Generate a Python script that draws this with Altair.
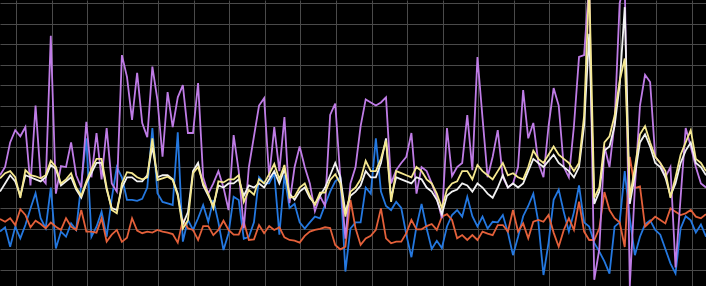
import altair as alt
import pandas as pd

N = 140
idx = list(range(N))

orange = [34.6, 33.3, 35, 31.7, 39.4, 36.6, 30.6, 33.8, 32.2, 30.1, 32.9, 30.9, 29.3, 35, 30.9, 29.3, 39, 28.5, 28.5, 28, 35, 23.6, 27, 29.3,
          23.5, 25.5, 35, 29, 27.7, 28.5, 28, 29.3, 28.5, 28, 27.3, 23.1, 34.2, 30.1, 29.3, 24.4, 31.2, 31.2, 26.8, 29.3, 33.8, 29.3, 27, 27,
          33.3, 24.4, 24.7, 31.7, 27.7, 31.2, 29.3, 30.6, 25.7, 24.4, 24.1, 23.1, 26.4, 28.5, 29.3, 29.8, 30.6, 30.2, 22, 19.8, 21.1, 43.9, 30.1,
          22, 25.2, 26.4, 29.3, 39.8, 25.2, 22.8, 23.6, 23.6, 27.7, 34.2, 29.6, 29.6, 31.2, 32.2, 29.3, 35.8, 37, 34.2, 25.2, 26.8, 24.4, 26.8, 24.4,
          28.5, 27.5, 26.8, 31.7, 31.7, 28.5, 39, 28.5, 32.5, 25.2, 33.3, 34.2, 33.3, 36.6, 28, 21.1, 29.3, 35, 29.3, 43.1, 28.5, 24.4, 24.4, 30.1,
          47.8, 39, 35, 33, 21, 65, 49.7, 50.5, 30.9, 33.3, 35.8, 34.2, 32.5, 39.8, 38.2, 36.6, 37.4, 39, 35.8, 35, 37]

blue = [28.5, 30.6, 21.1, 30.9, 25.2, 31.7, 39.8, 47.2, 35, 30.1, 50, 20.3, 28.5, 26, 32.5, 29.3, 52, 74, 26, 30.9, 38.2, 26, 44.7, 60,
        55, 44, 44, 43.5, 44.5, 50, 79, 47.2, 43, 42.3, 41.5, 77, 23.6, 34.2, 29.3, 35, 41.5, 33.3, 43.9, 33, 19.5, 27.7, 45.5, 43.9,
        25, 26, 33, 55, 52, 52, 57, 27, 56, 40, 42, 33, 30, 33, 35.8, 35, 41.5, 48, 53, 55, 9, 30, 33,
        33, 50, 47, 74, 48, 41, 39, 43, 40, 27, 16, 31, 42, 30, 20, 24, 20.5, 31, 36.6, 39, 35.8, 45.5, 36, 31,
        35.8, 30, 33.3, 33, 36.6, 28, 17, 26, 36, 41, 47, 33, 7.3, 23, 44, 49, 38, 28.5, 38, 51, 33, 31, 23, 18.7,
        14, 8, 30.9, 33, 58, 35, 17, 26, 32, 34, 29.3, 27, 20, 13, 8.1, 30, 36, 34, 28, 32, 26]

yellow = [54.5, 57, 58, 55, 45, 58.5, 56, 55.5, 54.5, 56, 63, 60, 52, 54, 57, 50, 46, 53, 59, 64, 64, 50, 39, 37.4,
          52, 57.5, 57, 55, 54, 55, 74, 53.7, 54.5, 55.3, 53.7, 46, 30, 34, 57, 60, 52, 47, 40, 53, 52.5, 54, 54, 56,
          43, 48.8, 46.5, 54, 52, 56.5, 61.5, 54, 61, 45, 45.5, 50, 52, 46, 41.5, 47.5, 47.5, 53.7, 56.5, 52, 35.8, 48, 50,
          54, 63, 58, 58, 64, 73, 43, 58, 57, 56, 55, 60, 58, 54, 52, 47, 40, 49, 52, 53, 58, 58, 54, 61,
          58, 56, 54, 58, 62, 56, 57, 55, 54, 60, 68, 64, 62, 66, 70, 66, 64, 62, 58, 62, 85, 150, 45, 50,
          72, 75, 85, 102, 113, 45, 60, 76, 80, 72, 65, 62, 58, 45, 55, 66, 72, 78, 64, 62, 58]

white = [48, 52, 56, 53, 46, 56, 55, 54, 53, 55, 61, 59, 51, 53, 55, 49, 45, 52, 57, 62, 62, 49, 40, 39,
         50, 55, 55, 53, 53, 56, 70, 55, 56, 56, 54, 47, 32, 38, 58, 62, 51, 46, 41, 51, 50, 52, 52, 54,
         46, 51, 50, 52, 50, 54, 58, 52, 59, 47, 44, 48, 50, 45, 42, 46, 50, 56, 62, 55, 38, 46, 48,
         51, 58, 55, 55, 62, 74, 45, 55, 54, 53, 52, 55, 54, 50, 48, 44, 37, 46, 48, 49, 52, 51, 48, 52,
         50, 47, 45, 50, 56, 50, 52, 50, 52, 58, 64, 62, 60, 63, 66, 62, 60, 58, 55, 60, 80, 125, 42, 48,
         68, 70, 80, 100, 138, 42, 56, 72, 76, 70, 62, 60, 55, 46, 52, 62, 68, 72, 62, 60, 56]

purple = [56, 60, 72, 78, 75, 79.5, 51, 90, 55, 52, 124, 47, 60.5, 60, 72, 56, 50, 82, 55, 76.6, 54, 79, 52, 48,
          114.6, 104, 83, 106, 81.5, 74.6, 109, 92.7, 65, 96.6, 79.5, 94, 100, 76.6, 76.6, 101, 55, 47, 52, 58, 50, 39, 75.6, 58,
          30, 60, 75, 90, 93.6, 55, 79.5, 58, 84.4, 42.4, 60, 70, 60, 52, 38.5, 45.8, 41, 85.4, 91, 55, 25, 52, 60,
          80, 93, 91.5, 90, 91.5, 94, 52, 58.5, 62, 65, 76.6, 47, 60, 58, 52, 45, 35, 79, 55.6, 60, 62, 85.4, 58.5, 113.7,
          84, 55, 65, 78, 55, 50, 52, 60, 97.6, 74, 81.5, 62, 55, 80, 98.5, 90, 60, 55, 80, 113.7, 114.6, 150, 5, 20,
          70, 60, 81.5, 140, 150, 2, 50, 90, 105, 101.5, 65, 62, 55, 60, 11, 45, 79, 70, 60, 52, 50]

names = ["blue", "orange", "purple", "white", "yellow"]
colors = ["#2478e0", "#e4603a", "#bf7ce6", "#f2f2f2", "#f5e890"]
series = [blue, orange, purple, white, yellow]

x_ticks = [3.15, 10.15, 17.15, 24.15, 31.15, 38.15, 45.15, 52.15, 59.15, 66.15,
           73.15, 80.15, 87.15, 94.15, 101.15, 108.15, 115.15, 122.15, 129.15, 136.15]
y_ticks = [10, 20, 30, 40, 50, 60, 70, 80, 90, 100, 110, 120, 130, 140]

axis_common = dict(labels=False, ticks=False, domain=False, grid=True,
                   gridColor="#4a4a4a", gridWidth=1, title=None)

layers = []
for name, col, vals in zip(names, colors, series):
    df = pd.DataFrame({"i": idx, "v": vals, "s": name})
    layers.append(
        alt.Chart(df).mark_line(color=col, strokeWidth=1.8, clip=True).encode(
            x=alt.X("i:Q", scale=alt.Scale(domain=[0, 139], nice=False, zero=False),
                    axis=alt.Axis(values=x_ticks, **axis_common)),
            y=alt.Y("v:Q", scale=alt.Scale(domain=[1.95, 141.5], nice=False, zero=False),
                    axis=alt.Axis(values=y_ticks, **axis_common)),
        )
    )

chart = alt.layer(*layers).properties(
    width=706, height=286, background="#000000", padding=0,
    autosize=alt.AutoSizeParams(type="none")
).configure_view(stroke=None)

chart.save("out.html", embed_options={"renderer": "svg", "actions": False})
